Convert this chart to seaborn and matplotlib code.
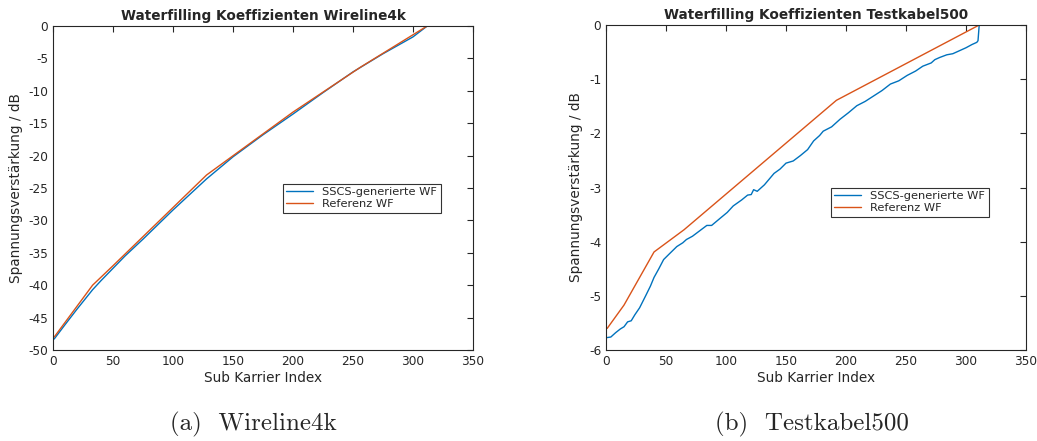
import matplotlib
matplotlib.use("Agg")
import matplotlib.pyplot as plt
import seaborn as sns
import pandas as pd

# Wireline4k
w_x_sscs = [1, 10, 20, 33, 40, 50, 60, 75, 100, 128, 150, 175, 200, 225, 250, 275, 300, 312]
w_y_sscs = [-48.3, -46.1, -43.7, -40.7, -39.3, -37.4, -35.5, -32.9, -28.4, -23.6, -20.2, -16.8, -13.6, -10.3, -7.1, -4.3, -1.7, 0.0]
w_x_ref = [1, 33, 50, 128, 200, 256, 312]
w_y_ref = [-48.0, -40.0, -37.0, -23.0, -13.3, -6.4, 0.0]

# Testkabel500
t_x_sscs = [1, 4, 8, 12, 15, 18, 21, 24, 28, 33, 37, 40, 44, 48, 53, 59, 64, 67, 72, 78, 84, 88, 95,
            101, 106, 113, 118, 121, 123, 126, 132, 140, 145, 150, 156, 162, 168, 173, 178, 181, 188,
            195, 202, 209, 216, 223, 230, 237, 244, 251, 258, 264, 271, 274, 278, 284, 289, 295, 300,
            305, 309, 310, 311]
t_y_sscs = [-5.77, -5.76, -5.68, -5.61, -5.57, -5.48, -5.46, -5.35, -5.22, -5.00, -4.82, -4.66, -4.50,
            -4.33, -4.22, -4.09, -4.02, -3.96, -3.90, -3.80, -3.70, -3.70, -3.57, -3.46, -3.34, -3.23,
            -3.14, -3.13, -3.04, -3.07, -2.95, -2.74, -2.66, -2.55, -2.51, -2.41, -2.30, -2.14, -2.04,
            -1.96, -1.88, -1.74, -1.62, -1.49, -1.41, -1.31, -1.21, -1.09, -1.03, -0.93, -0.85, -0.76,
            -0.70, -0.64, -0.60, -0.55, -0.53, -0.47, -0.42, -0.36, -0.32, -0.29, 0.0]
t_x_ref = [1, 15, 40, 65, 192, 311]
t_y_ref = [-5.60, -5.17, -4.19, -3.78, -1.39, 0.0]

titles = ["Waterfilling Koeffizienten Wireline4k", "Waterfilling Koeffizienten Testkabel500"]
captions = ["(a)  Wireline4k", "(b)  Testkabel500"]
series_names = ["SSCS-generierte WF", "Referenz WF"]
colors = ["#0072BD", "#D95319"]


def make_df(xs, ys, xr, yr):
    a = pd.DataFrame({"x": xs, "y": ys, "serie": series_names[0]})
    b = pd.DataFrame({"x": xr, "y": yr, "serie": series_names[1]})
    return pd.concat([a, b], ignore_index=True)


dfs = [make_df(w_x_sscs, w_y_sscs, w_x_ref, w_y_ref),
       make_df(t_x_sscs, t_y_sscs, t_x_ref, t_y_ref)]

sns.set_style("white")
plt.rcParams["font.family"] = ["DejaVu Sans"]

fig = plt.figure(figsize=(10.37, 4.41), dpi=100)
ax1 = fig.add_axes([0.0511, 0.2063, 0.405, 0.735])
ax2 = fig.add_axes([0.5844, 0.2063, 0.405, 0.737])

ylims = [(-50, 0), (-6, 0)]
yticks = [list(range(-50, 1, 5)), list(range(-6, 1, 1))]
leg_pos = [(0.533, 0.531), (0.521, 0.517)]
cap_x = [0.244, 0.783]

for i, ax in enumerate([ax1, ax2]):
    sns.lineplot(data=dfs[i], x="x", y="y", hue="serie", palette=colors,
                 sort=False, estimator=None, lw=1.0, ax=ax)
    ax.set_xlim(0, 350)
    ax.set_ylim(*ylims[i])
    ax.set_xticks(range(0, 351, 50))
    ax.set_yticks(yticks[i])
    ax.set_yticklabels([str(v) for v in yticks[i]])
    ax.tick_params(direction="in", length=4, top=True, right=True,
                   labelsize=8.7, colors="#262626", width=0.8)
    for s in ax.spines.values():
        s.set_color("#262626")
        s.set_linewidth(0.8)
    ax.set_xlabel("Sub Karrier Index", fontsize=9.8, color="#262626", labelpad=2)
    ax.set_ylabel("Spannungsverstärkung / dB", fontsize=9.8, color="#262626")
    ax.set_title(titles[i], fontsize=9.8, fontweight="bold", pad=4)
    leg = ax.legend(loc="upper left", bbox_to_anchor=leg_pos[i], fontsize=8.2,
                    frameon=True, fancybox=False, edgecolor="black",
                    handlelength=2.4, borderpad=0.3, labelspacing=0.2, title=None)
    leg.get_frame().set_linewidth(0.8)
    fig.text(cap_x[i], 0.0385, captions[i], fontsize=18, family="cmr10",
             ha="center", va="center")

fig.savefig("out.png", dpi=100)
